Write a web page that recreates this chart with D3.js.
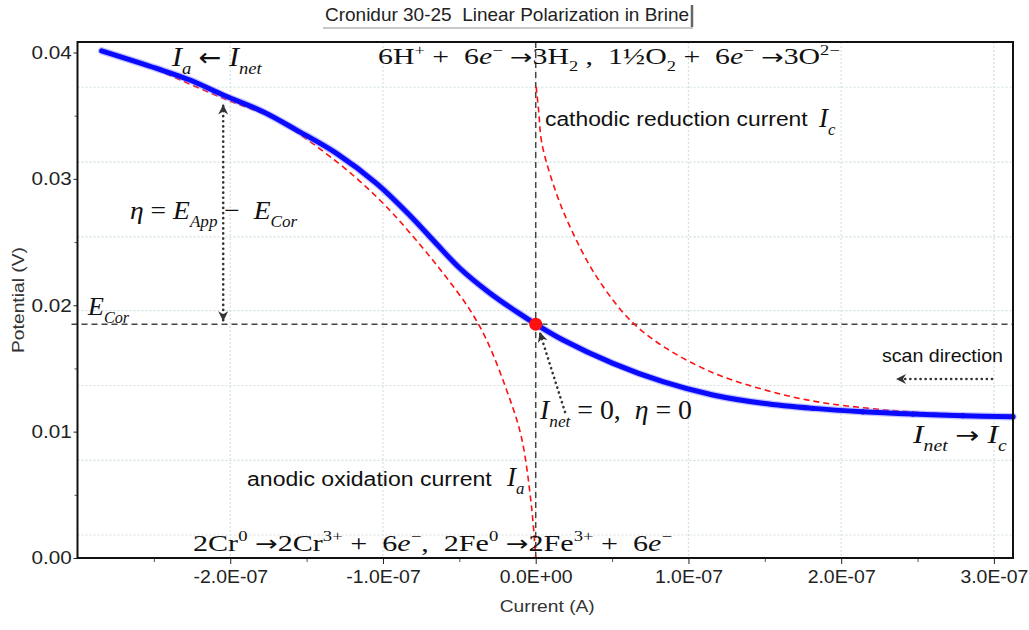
<!DOCTYPE html>
<html>
<head>
<meta charset="utf-8">
<script src="https://cdn.jsdelivr.net/npm/d3@7"></script>
<style>
  html, body { margin: 0; padding: 0; background: #fff; }
  svg { display: block; }
  text { white-space: pre; }
</style>
</head>
<body>
<svg id="chart" width="1029" height="630"></svg>
<script>
// ---- data ----------------------------------------------------------
// Measured net current (A) vs potential (V), scanned from cathodic to anodic
const netCurrent = [-2.842e-7, -2.482e-7, -2.264e-7, -2.046e-7, -1.785e-7, -1.566e-7, -1.304e-7,
  -1.043e-7, -0.825e-7, -0.650e-7, -0.497e-7, -0.301e-7, -0.126e-7, 0, 0.179e-7, 0.506e-7,
  0.833e-7, 1.160e-7, 1.488e-7, 1.815e-7, 2.142e-7, 2.469e-7, 2.796e-7, 3.124e-7];
const netPotential = [0.04013, 0.03874, 0.03782, 0.03663, 0.03531, 0.03386, 0.03202,
  0.02964, 0.02712, 0.02486, 0.02293, 0.02097, 0.01949, 0.01851, 0.01725, 0.01540,
  0.01395, 0.01290, 0.01224, 0.01184, 0.01157, 0.01139, 0.01126, 0.01118];

// Partial anodic (oxidation) current branch
const anodicCurrent = [-2.482e-7, -2.048e-7, -1.697e-7, -1.304e-7, -1.021e-7, -0.803e-7, -0.607e-7,
  -0.432e-7, -0.323e-7, -0.192e-7, -0.095e-7, -0.028e-7, 0];
const anodicPotential = [0.03865, 0.03638, 0.03465, 0.03136, 0.02833, 0.02544, 0.02255,
  0.01965, 0.01729, 0.01334, 0.00963, 0.00413, 0.0];

// Partial cathodic (reduction) current branch
const cathodicCurrent = [0.003e-7, 0.020e-7, 0.040e-7, 0.135e-7, 0.244e-7, 0.397e-7, 0.615e-7,
  0.833e-7, 1.160e-7, 1.488e-7, 1.815e-7, 2.142e-7, 2.469e-7, 2.927e-7];
const cathodicPotential = [0.0373, 0.03529, 0.03283, 0.02886, 0.02571, 0.02228, 0.01886,
  0.01676, 0.01466, 0.01334, 0.01242, 0.01189, 0.01155, 0.01129];

// Corrosion potential (zero net current)
const corrosionPotential = 0.0185;

// Axis ticks
const xTickValues = [-2e-7, -1e-7, 0, 1e-7, 2e-7, 3e-7];
const xTickLabels = ["-2.0E-07", "-1.0E-07", "0.0E+00", "1.0E-07", "2.0E-07", "3.0E-07"];
const xMinorTicks = [-2.5e-7, -1.5e-7, -0.5e-7, 0.5e-7, 1.5e-7, 2.5e-7];
const yTickValues = [0, 0.01, 0.02, 0.03, 0.04];
const yTickLabels = ["0.00", "0.01", "0.02", "0.03", "0.04"];
const yMinorTicks = [0.005, 0.015, 0.025, 0.035];
const yGridValues = [0.00182, 0.00773, 0.01365, 0.01957, 0.02541, 0.03133, 0.03725];

// ---- layout --------------------------------------------------------
const svg = d3.select("#chart");
const plotLeft = 77.5, plotRight = 1013, plotTop = 42, plotBottom = 558;
const x = d3.scaleLinear().domain([-3.0e-7, 3.125e-7]).range([plotLeft, plotRight]);
const y = d3.scaleLinear().domain([0, 0.04083]).range([plotBottom, plotTop]);

const SANS = "'Liberation Sans', Arial, sans-serif";
const SERIF = "'Liberation Serif', 'Times New Roman', serif";
const ARROW = "'DejaVu Sans', sans-serif";
const INK = "#333";

// ---- title ---------------------------------------------------------
const title = svg.append("text")
  .attr("x", 507).attr("y", 21)
  .attr("text-anchor", "middle")
  .attr("font-family", SANS).attr("font-size", 18.5).attr("fill", "#222")
  .attr("textLength", 364).attr("lengthAdjust", "spacingAndGlyphs")
  .text("Cronidur 30-25  Linear Polarization in Brine");
const tb = title.node().getBBox();
svg.append("line").attr("x1", tb.x + tb.width + 3).attr("x2", tb.x + tb.width + 3)
  .attr("y1", tb.y + 1).attr("y2", tb.y + tb.height + 2)
  .attr("stroke", "#666").attr("stroke-width", 2.5);
svg.append("line").attr("x1", tb.x - 2).attr("x2", tb.x + tb.width + 4)
  .attr("y1", tb.y + tb.height + 3).attr("y2", tb.y + tb.height + 3)
  .attr("stroke", "#c8c8c8").attr("stroke-width", 2);

// ---- grid ----------------------------------------------------------
const grid = svg.append("g").attr("stroke", "#d3e0e0").attr("stroke-width", 1.2)
  .attr("stroke-dasharray", "2 2");
grid.selectAll("line.v").data(xTickValues).join("line").attr("class", "v")
  .attr("x1", d => x(d)).attr("x2", d => x(d)).attr("y1", plotTop).attr("y2", plotBottom);
grid.selectAll("line.h").data(yGridValues).join("line").attr("class", "h")
  .attr("x1", plotLeft).attr("x2", plotRight).attr("y1", d => y(d)).attr("y2", d => y(d));

// ---- axes ----------------------------------------------------------
const xAxis = d3.axisBottom(x).tickValues(xTickValues)
  .tickFormat((d, i) => xTickLabels[i]).tickSize(6).tickPadding(6);
const gx = svg.append("g").attr("transform", `translate(0,${plotBottom})`).call(xAxis);
gx.select(".domain").remove();
gx.selectAll("text").attr("font-family", SANS).attr("font-size", 18).attr("fill", "#222")
  .attr("transform", "scale(1.08,1)");
gx.selectAll("line").attr("stroke", "#222");
const gxm = svg.append("g").attr("transform", `translate(0,${plotBottom})`)
  .call(d3.axisBottom(x).tickValues(xMinorTicks).tickFormat("").tickSize(4));
gxm.select(".domain").remove();
gxm.selectAll("line").attr("stroke", "#555");

const yAxis = d3.axisLeft(y).tickValues(yTickValues)
  .tickFormat((d, i) => yTickLabels[i]).tickSize(4).tickPadding(1);
const gy = svg.append("g").attr("transform", `translate(${plotLeft},0)`).call(yAxis);
gy.select(".domain").remove();
gy.selectAll("text").attr("font-family", SANS).attr("font-size", 18).attr("fill", "#222")
  .attr("transform", "scale(1.15,1)");
gy.selectAll("line").attr("stroke", "#222");
const gym = svg.append("g").attr("transform", `translate(${plotLeft},0)`)
  .call(d3.axisLeft(y).tickValues(yMinorTicks).tickFormat("").tickSize(3));
gym.select(".domain").remove();
gym.selectAll("line").attr("stroke", "#555");

svg.append("text").attr("x", (plotLeft + plotRight) / 2 + 2).attr("y", 612)
  .attr("text-anchor", "middle").attr("font-family", SANS).attr("font-size", 17)
  .attr("fill", "#333").attr("textLength", 95).attr("lengthAdjust", "spacingAndGlyphs")
  .text("Current (A)");
svg.append("text").attr("transform", "translate(24,300) rotate(-90)")
  .attr("text-anchor", "middle").attr("font-family", SANS).attr("font-size", 17)
  .attr("fill", "#333").attr("textLength", 106).attr("lengthAdjust", "spacingAndGlyphs")
  .text("Potential (V)");

// ---- reference lines -----------------------------------------------
svg.append("line").attr("x1", x(0)).attr("x2", x(0)).attr("y1", plotTop).attr("y2", plotBottom)
  .attr("stroke", "#444").attr("stroke-width", 1.5).attr("stroke-dasharray", "6 4");
svg.append("line").attr("x1", plotLeft - 6).attr("x2", plotRight)
  .attr("y1", y(corrosionPotential)).attr("y2", y(corrosionPotential))
  .attr("stroke", "#444").attr("stroke-width", 1.5).attr("stroke-dasharray", "6 4");

// ---- curves --------------------------------------------------------
const line = d3.line().x(d => x(d[0])).y(d => y(d[1])).curve(d3.curveCatmullRom.alpha(0.5));
const anodic = d3.zip(anodicCurrent, anodicPotential);
const cathodic = d3.zip(cathodicCurrent, cathodicPotential);
const net = d3.zip(netCurrent, netPotential);

[anodic, cathodic].forEach(pts => {
  svg.append("path").attr("d", line(pts)).attr("fill", "none")
    .attr("stroke", "#ff1010").attr("stroke-width", 1.6).attr("stroke-dasharray", "6 4");
});
svg.append("path").attr("d", line(net)).attr("fill", "none")
  .attr("stroke", "#7f7fff").attr("stroke-width", 7.5).attr("stroke-opacity", 0.45)
  .attr("stroke-linecap", "round");
svg.append("path").attr("d", line(net)).attr("fill", "none")
  .attr("stroke", "#0a0aff").attr("stroke-width", 5).attr("stroke-linecap", "round");
// individual samples along the flat cathodic tail
svg.append("g").selectAll("circle").data(net.filter(d => d[0] > 1.5e-7)).join("circle")
  .attr("cx", d => x(d[0])).attr("cy", d => y(d[1])).attr("r", 2.6).attr("fill", "#0a0aff");

svg.append("circle").attr("cx", x(0)).attr("cy", y(corrosionPotential)).attr("r", 6.5)
  .attr("fill", "#ff1010");

// ---- annotations ---------------------------------------------------
const defs = svg.append("defs");
defs.append("marker").attr("id", "head").attr("viewBox", "0 0 12 12")
  .attr("refX", 10).attr("refY", 6).attr("markerWidth", 12).attr("markerHeight", 12)
  .attr("markerUnits", "userSpaceOnUse").attr("orient", "auto-start-reverse")
  .append("path").attr("d", "M1,1 L11,6 L1,11 L4,6 Z").attr("fill", INK);

function dotted(x1, y1, x2, y2, both) {
  const l = svg.append("line").attr("x1", x1).attr("y1", y1).attr("x2", x2).attr("y2", y2)
    .attr("stroke", INK).attr("stroke-width", 2.6).attr("stroke-linecap", "round")
    .attr("stroke-dasharray", "0.1 5").attr("marker-end", "url(#head)");
  if (both) l.attr("marker-start", "url(#head)");
}

// overpotential arrow between E_Cor and the measured curve
dotted(x(-2.046e-7), y(corrosionPotential) - 4, x(-2.046e-7), y(0.0358), true);
// arrow pointing at the corrosion point
dotted(565, 412, 540, 333, false);
// scan direction arrow
dotted(992, 379, 897, 379, false);

// Text with italic symbols, sub/superscripts; optionally stretched to a given width
function rich(px, py, size, family, segs, width) {
  const t = svg.append("text").attr("x", 0).attr("y", 0)
    .attr("transform", `translate(${px},${py})`)
    .attr("font-family", family).attr("font-size", size).attr("fill", "#111");
  let cur = 0;
  segs.forEach(s => {
    const off = s.pos === "sub" ? size * 0.3 : s.pos === "sup" ? -size * 0.4 : 0;
    const ts = t.append("tspan").attr("dy", off - cur).text(s.t);
    if (s.pos) ts.attr("font-size", size * 0.62);
    if (s.i) ts.attr("font-style", "italic");
    if (s.arrow) ts.attr("font-family", ARROW).attr("font-size", size * 0.9);
    cur = off;
  });
  if (width) {
    const w = t.node().getBBox().width;
    t.attr("transform", `translate(${px},${py}) scale(${width / w},1)`);
  }
  return t;
}

rich(172, 66, 28, SERIF, [
  {t: "I", i: 1}, {t: "a", i: 1, pos: "sub"}, {t: " "}, {t: "\u2190", arrow: 1}, {t: " "},
  {t: "I", i: 1}, {t: "net", i: 1, pos: "sub"}
], 92);
rich(378, 64, 23, SERIF, [
  {t: "6H"}, {t: "+", pos: "sup"}, {t: " +  6"}, {t: "e", i: 1}, {t: "\u2212", pos: "sup"},
  {t: " "}, {t: "\u2192", arrow: 1}, {t: "3H"}, {t: "2", pos: "sub"}, {t: " ,  1\u00BDO"},
  {t: "2", pos: "sub"}, {t: " +  6"}, {t: "e", i: 1}, {t: "\u2212", pos: "sup"}, {t: " "},
  {t: "\u2192", arrow: 1}, {t: "3O"}, {t: "2\u2212", pos: "sup"}
], 462);
rich(545, 126, 21, SANS, [{t: "cathodic reduction current"}], 263);
rich(819, 127, 27, SERIF, [{t: "I", i: 1}, {t: "c", i: 1, pos: "sub"}]);

rich(130, 219, 26, SERIF, [
  {t: "\u03B7", i: 1}, {t: " = "}, {t: "E", i: 1}, {t: "App", i: 1, pos: "sub"}, {t: " \u2212  "},
  {t: "E", i: 1}, {t: "Cor", i: 1, pos: "sub"}
], 168);
rich(88, 315, 26, SERIF, [{t: "E", i: 1}, {t: "Cor", i: 1, pos: "sub"}]);

rich(540, 419, 28, SERIF, [
  {t: "I", i: 1}, {t: "net", i: 1, pos: "sub"}, {t: " = 0,  "}, {t: "\u03B7", i: 1}, {t: " = 0"}
], 153);
rich(882, 362, 18, SANS, [{t: "scan direction"}], 121);
rich(913, 443, 26, SERIF, [
  {t: "I", i: 1}, {t: "net", i: 1, pos: "sub"}, {t: " "}, {t: "\u2192", arrow: 1}, {t: " "},
  {t: "I", i: 1}, {t: "c", i: 1, pos: "sub"}
], 95);

rich(247, 486, 21, SANS, [{t: "anodic oxidation current"}], 245);
rich(507, 486, 27, SERIF, [{t: "I", i: 1}, {t: "a", i: 1, pos: "sub"}]);

rich(193, 551, 24, SERIF, [
  {t: "2Cr"}, {t: "0", pos: "sup"}, {t: " "}, {t: "\u2192", arrow: 1}, {t: "2Cr"},
  {t: "3+", pos: "sup"}, {t: " +  6"}, {t: "e", i: 1}, {t: "\u2212", pos: "sup"}, {t: ",  2Fe"},
  {t: "0", pos: "sup"}, {t: " "}, {t: "\u2192", arrow: 1}, {t: "2Fe"}, {t: "3+", pos: "sup"},
  {t: " +  6"}, {t: "e", i: 1}, {t: "\u2212", pos: "sup"}
], 479);

// ---- frame ---------------------------------------------------------
svg.append("rect").attr("x", plotLeft).attr("y", plotTop).attr("width", plotRight - plotLeft)
  .attr("height", plotBottom - plotTop).attr("fill", "none").attr("stroke", "#111")
  .attr("stroke-width", 2);
</script>
</body>
</html>
